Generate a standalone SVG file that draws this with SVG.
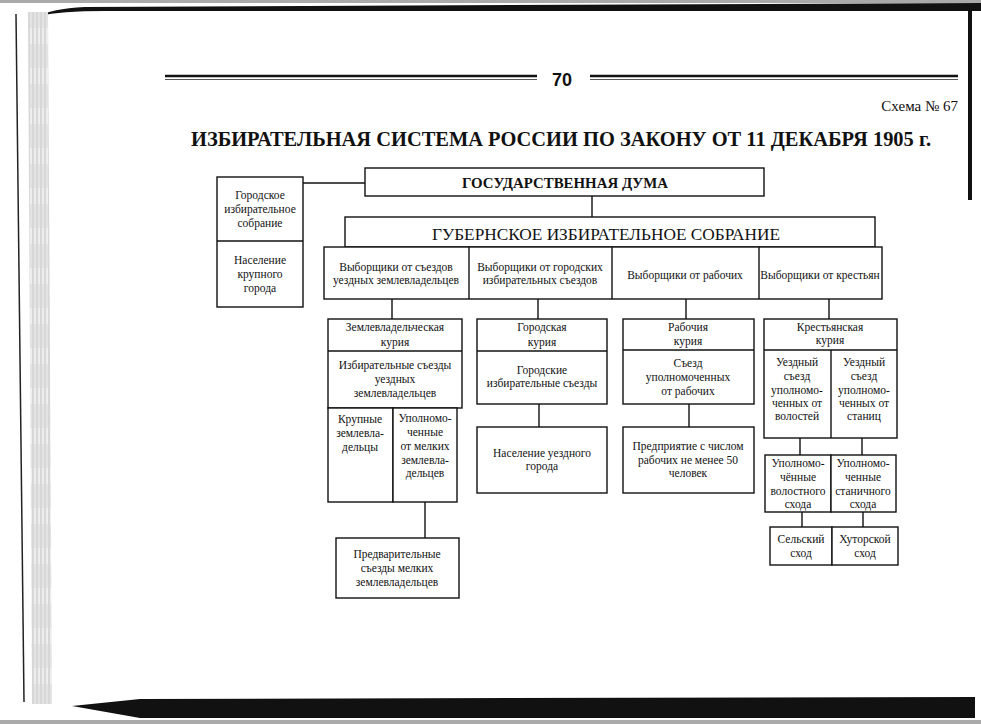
<svg xmlns="http://www.w3.org/2000/svg" width="981" height="724" viewBox="0 0 981 724">
<defs>
<style>
.b{fill:#fff;stroke:#111;stroke-width:1.4}
.l{stroke:#111;stroke-width:1.4;fill:none}
.t{font-family:"Liberation Serif","Times New Roman",serif;font-size:11.5px;fill:#111;text-anchor:middle}
</style>
<pattern id="hatch" width="4" height="40" patternUnits="userSpaceOnUse">
<rect width="4" height="40" fill="#eeeeee"/>
<line x1="1" y1="0" x2="1" y2="40" stroke="#aaa" stroke-width="0.7"/>
<line x1="3" y1="4" x2="3" y2="28" stroke="#c4c4c4" stroke-width="0.5"/>
</pattern>
</defs>
<rect width="981" height="724" fill="#fff"/>
<g id="page">
<rect x="0" y="0" width="981" height="3" fill="#aaa"/>
<rect x="0" y="720" width="981" height="4" fill="#aaa"/>
<path d="M40,16 Q50,9 85,7 L981,3 L981,11 L105,11 Q60,11 40,16 Z" fill="#111"/>
<rect x="968" y="4" width="4" height="196" fill="#111"/>
<path d="M72,706 L140,699 L975,697 L975,718 L140,718 Z" fill="#111"/>
<line x1="16" y1="14" x2="24" y2="702" stroke="#222" stroke-width="1.5"/>
<path d="M28,12 L48,12 L52,704 L32,704 Z" fill="url(#hatch)"/>
</g>
<g id="header">
<line x1="165" y1="76" x2="537" y2="76" stroke="#111" stroke-width="2.6"/>
<line x1="165" y1="79.5" x2="537" y2="79.5" stroke="#555" stroke-width="1"/>
<line x1="590" y1="76" x2="958" y2="76" stroke="#111" stroke-width="2.6"/>
<line x1="590" y1="79.5" x2="958" y2="79.5" stroke="#555" stroke-width="1"/>
<text x="562" y="86" font-family="Liberation Sans, Arial, sans-serif" font-size="18" font-weight="bold" text-anchor="middle" fill="#111">70</text>
<text x="958" y="111" font-family="Liberation Serif, serif" font-size="15" text-anchor="end" fill="#111">Схема № 67</text>
<text x="561" y="146" font-family="Liberation Serif, serif" font-size="20" font-weight="bold" text-anchor="middle" fill="#111" textLength="740" lengthAdjust="spacingAndGlyphs">ИЗБИРАТЕЛЬНАЯ СИСТЕМА РОССИИ ПО ЗАКОНУ ОТ 11 ДЕКАБРЯ 1905 г.</text>
</g>
<g id="connectors">
<line class="l" x1="303" y1="183" x2="365" y2="183"/>
<line class="l" x1="592" y1="196" x2="592" y2="217"/>
<line class="l" x1="392" y1="299" x2="392" y2="319"/>
<line class="l" x1="538" y1="299" x2="538" y2="319"/>
<line class="l" x1="686" y1="299" x2="686" y2="319"/>
<line class="l" x1="829" y1="299" x2="829" y2="319"/>
<line class="l" x1="425" y1="502" x2="425" y2="538"/>
<line class="l" x1="539" y1="404" x2="539" y2="427"/>
<line class="l" x1="689" y1="404" x2="689" y2="427"/>
<line class="l" x1="800" y1="438" x2="800" y2="455"/>
<line class="l" x1="862" y1="438" x2="862" y2="455"/>
<line class="l" x1="802" y1="512" x2="802" y2="527"/>
<line class="l" x1="863" y1="512" x2="863" y2="527"/>
</g>
<g id="city-assembly">
<rect class="b" x="217" y="177" width="86" height="130"/>
<line class="l" x1="217" y1="241" x2="303" y2="241"/>
<text class="t" x="260" y="199">Городское</text>
<text class="t" x="260" y="213">избирательное</text>
<text class="t" x="260" y="227">собрание</text>
<text class="t" x="260" y="264">Население</text>
<text class="t" x="260" y="278">крупного</text>
<text class="t" x="260" y="292">города</text>
</g>
<g id="duma">
<rect class="b" x="365" y="168" width="399" height="28"/>
<text x="565" y="188" font-family="Liberation Serif, serif" font-size="15" font-weight="bold" text-anchor="middle" fill="#111" textLength="206" lengthAdjust="spacingAndGlyphs">ГОСУДАРСТВЕННАЯ ДУМА</text>
</g>
<g id="gubernia">
<rect class="b" x="345" y="217" width="530" height="30"/>
<text x="606" y="240" font-family="Liberation Serif, serif" font-size="16" text-anchor="middle" fill="#111" textLength="348" lengthAdjust="spacingAndGlyphs">ГУБЕРНСКОЕ ИЗБИРАТЕЛЬНОЕ СОБРАНИЕ</text>
</g>
<g id="electors">
<rect class="b" x="324" y="247" width="558" height="52"/>
<line class="l" x1="469" y1="247" x2="469" y2="299"/>
<line class="l" x1="612" y1="247" x2="612" y2="299"/>
<line class="l" x1="759" y1="247" x2="759" y2="299"/>
<text class="t" x="396" y="271">Выборщики от съездов</text>
<text class="t" x="396" y="284">уездных землевладельцев</text>
<text class="t" x="540" y="271">Выборщики от городских</text>
<text class="t" x="540" y="284">избирательных съездов</text>
<text class="t" x="685" y="279">Выборщики от рабочих</text>
<text class="t" x="820" y="279">Выборщики от крестьян</text>
</g>
<g id="landowner-curia">
<rect class="b" x="328" y="319" width="134" height="89"/>
<line class="l" x1="328" y1="351" x2="462" y2="351"/>
<text class="t" x="395" y="331">Землевладельческая</text>
<text class="t" x="395" y="346">курия</text>
<text class="t" x="395" y="369">Избирательные съезды</text>
<text class="t" x="395" y="383">уездных</text>
<text class="t" x="395" y="397">землевладельцев</text>
</g>
<g id="landowners">
<rect class="b" x="328" y="408" width="65" height="94"/>
<text class="t" x="360" y="423">Крупные</text>
<text class="t" x="360" y="437">землевла-</text>
<text class="t" x="360" y="451">дельцы</text>
<rect class="b" x="393" y="408" width="64" height="94"/>
<text class="t" x="425" y="422">Уполномо-</text>
<text class="t" x="425" y="436">ченные</text>
<text class="t" x="425" y="450">от мелких</text>
<text class="t" x="425" y="464">землевла-</text>
<text class="t" x="425" y="477">дельцев</text>
</g>
<g id="preliminary">
<rect class="b" x="336" y="538" width="123" height="60"/>
<text class="t" x="397" y="558">Предварительные</text>
<text class="t" x="397" y="572">съезды мелких</text>
<text class="t" x="397" y="586">землевладельцев</text>
</g>
<g id="city-curia">
<rect class="b" x="477" y="319" width="130" height="85"/>
<line class="l" x1="477" y1="351" x2="607" y2="351"/>
<text class="t" x="542" y="331">Городская</text>
<text class="t" x="542" y="346">курия</text>
<text class="t" x="542" y="374">Городские</text>
<text class="t" x="542" y="387">избирательные съезды</text>
</g>
<g id="county-town">
<rect class="b" x="477" y="427" width="130" height="66"/>
<text class="t" x="542" y="457">Население уездного</text>
<text class="t" x="542" y="470">города</text>
</g>
<g id="worker-curia">
<rect class="b" x="623" y="319" width="131" height="85"/>
<line class="l" x1="623" y1="350" x2="754" y2="350"/>
<text class="t" x="688" y="331">Рабочия</text>
<text class="t" x="688" y="345">курия</text>
<text class="t" x="688" y="367">Съезд</text>
<text class="t" x="688" y="381">уполномоченных</text>
<text class="t" x="688" y="395">от рабочих</text>
</g>
<g id="enterprise">
<rect class="b" x="623" y="427" width="131" height="66"/>
<text class="t" x="688" y="450">Предприятие с числом</text>
<text class="t" x="688" y="464">рабочих не менее 50</text>
<text class="t" x="688" y="477">человек</text>
</g>
<g id="peasant-curia">
<rect class="b" x="764" y="319" width="133" height="119"/>
<line class="l" x1="764" y1="350" x2="897" y2="350"/>
<line class="l" x1="831" y1="350" x2="831" y2="438"/>
<text class="t" x="830" y="331">Крестьянская</text>
<text class="t" x="830" y="344">курия</text>
<text class="t" x="797" y="366">Уездный</text>
<text class="t" x="797" y="380">съезд</text>
<text class="t" x="797" y="394">уполномо-</text>
<text class="t" x="797" y="407">ченных от</text>
<text class="t" x="797" y="420">волостей</text>
<text class="t" x="864" y="366">Уездный</text>
<text class="t" x="864" y="380">съезд</text>
<text class="t" x="864" y="394">уполномо-</text>
<text class="t" x="864" y="407">ченных от</text>
<text class="t" x="864" y="420">станиц</text>
</g>
<g id="plenipotentiaries">
<rect class="b" x="765" y="455" width="66" height="57"/>
<rect class="b" x="831" y="455" width="65" height="57"/>
<text class="t" x="798" y="467">Уполномо-</text>
<text class="t" x="798" y="481">чённые</text>
<text class="t" x="798" y="495">волостного</text>
<text class="t" x="798" y="508">схода</text>
<text class="t" x="863" y="467">Уполномо-</text>
<text class="t" x="863" y="481">ченные</text>
<text class="t" x="863" y="495">станичного</text>
<text class="t" x="863" y="508">схода</text>
</g>
<g id="assemblies">
<rect class="b" x="770" y="527" width="62" height="38"/>
<rect class="b" x="832" y="527" width="66" height="38"/>
<text class="t" x="801" y="543">Сельский</text>
<text class="t" x="801" y="557">сход</text>
<text class="t" x="865" y="543">Хуторской</text>
<text class="t" x="865" y="557">сход</text>
</g>
</svg>
